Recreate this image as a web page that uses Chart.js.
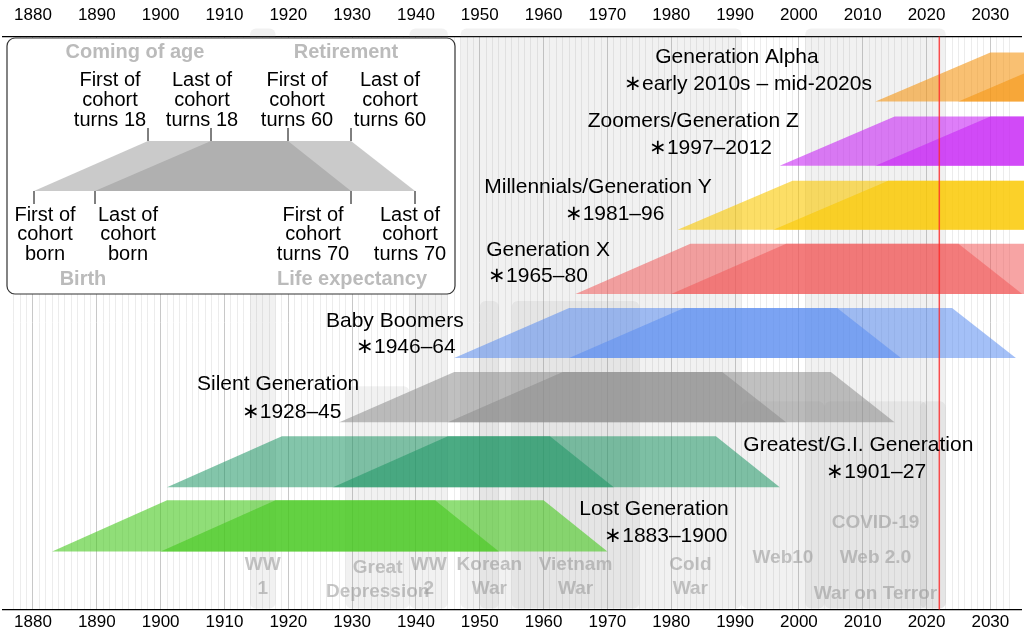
<![CDATA[<!DOCTYPE html><html><head><meta charset="utf-8">
<script src="https://cdn.jsdelivr.net/npm/chart.js@4"></script>
<style>html,body{margin:0;padding:0;background:#fff}#w{width:1024px;height:640px}</style></head><body>
<div id="w"><canvas id="c"></canvas></div>
<script>
const genNames=["Lost Generation","Greatest/G.I. Generation","Silent Generation","Baby Boomers","Generation X","Millennials/Generation Y","Zoomers/Generation Z","Generation Alpha"];
const genSpans=["∗1883–1900","∗1901–27","∗1928–45","∗1946–64","∗1965–80","∗1981–96","∗1997–2012","∗early 2010s – mid-2020s"];
const birthStart=[1883,1901,1928,1946,1965,1981,1997,2012];
const birthEnd=[1900,1927,1945,1964,1980,1996,2012,2025];
const rowTop=[499,435,371,307,243,180,116,52];
const rowBottom=[550,486,421,357,293,229,165,101];
const colors=["rgba(70,200,30,0.6)","rgba(30,150,100,0.55)","rgba(140,140,140,0.55)","rgba(90,140,240,0.55)","rgba(240,90,90,0.55)","rgba(250,200,0,0.6)","rgba(200,40,245,0.6)","rgba(245,150,20,0.6)"];
const nameYear=[1965.6,1991.3,1905.7,1925.9,1951.0,1950.7,1966.9,1977.5];
const nameY=[508,444,383,320,249,186,121,57];
const spanYear=[1969.5,2004.3,1912.7,1930.6,1951.3,1963.3,1976.5,1972.6];
const spanY=[535,471,411,346,275,213,148,84];
const eventNames=["WW\n1","Great\nDepression","WW\n2","Korean\nWar","Vietnam\nWar","Cold\nWar","Web10","Web 2.0","COVID-19","War on Terror"];
const eventStart=[1914,1929,1939,1950,1955,1947,1991,2004,2019,2001];
const eventEnd=[1918,1939,1945,1953,1975,1991,2004,2020,2023,2023];
const eventTop=[28,385,28,300,300,28,400,400,400,28];
const eventLabelYear=[1916,1934,1942,1951.5,1965,1983,1997.5,2012,2012,2012];
const eventLabelY=[575,578,575,575,575,575,556,556,521,592];
const currentYear=2022;

const pl={id:'p',
beforeDatasetsDraw(ch){const c=ch.ctx,x=ch.scales.x,y=ch.scales.y;c.save();
 eventStart.forEach((s,i)=>{c.fillStyle='rgba(150,150,150,0.13)';const x0=x.getPixelForValue(s),x1=x.getPixelForValue(eventEnd[i]);const y0=y.getPixelForValue(eventTop[i]),y1=y.getPixelForValue(607);c.beginPath();c.roundRect(x0,y0,x1-x0,y1-y0,6);c.fill();});
 birthStart.forEach((b,i)=>{[b,birthEnd[i]].forEach(v=>{const t=y.getPixelForValue(rowTop[i]),bo=y.getPixelForValue(rowBottom[i]);c.fillStyle=colors[i];c.beginPath();c.moveTo(x.getPixelForValue(v),bo);c.lineTo(x.getPixelForValue(v+18),t);c.lineTo(x.getPixelForValue(v+60),t);c.lineTo(x.getPixelForValue(v+70),bo);c.closePath();c.fill();});});
 c.strokeStyle='rgba(255,40,40,0.8)';c.lineWidth=1.5;const cx=x.getPixelForValue(currentYear);c.beginPath();c.moveTo(cx,y.top);c.lineTo(cx,y.bottom);c.stroke();
 c.restore();},
afterDatasetsDraw(ch){const c=ch.ctx,x=ch.scales.x,y=ch.scales.y;c.save();
 c.textAlign='center';c.textBaseline='middle';c.font='bold 19px "Liberation Sans"';c.fillStyle='rgba(150,150,150,0.55)';
 eventNames.forEach((n,i)=>{const ls=n.split('\n');ls.forEach((l,k)=>c.fillText(l,x.getPixelForValue(eventLabelYear[i]),y.getPixelForValue(eventLabelY[i])+(k-(ls.length-1)/2)*24));});
 c.fillStyle='#000';c.font='21px "Liberation Sans"';
 genNames.forEach((n,i)=>{c.textAlign='left';c.fillText(n,x.getPixelForValue(nameYear[i]),y.getPixelForValue(nameY[i]));c.fillText(genSpans[i],x.getPixelForValue(spanYear[i]),y.getPixelForValue(spanY[i]));});
 c.fillStyle='#fff';c.strokeStyle='#333';c.lineWidth=1.2;c.beginPath();c.roundRect(7,38,448,256,8);c.fill();c.stroke();
 const lx=[34,95,351,415],tx=[148,211,288,351];
 [[0,2],[1,3]].forEach(([a,b])=>{c.fillStyle='rgba(150,150,150,0.5)';c.beginPath();c.moveTo(lx[a],191);c.lineTo(tx[a],141);c.lineTo(tx[b],141);c.lineTo(lx[b],191);c.closePath();c.fill();});
 c.strokeStyle='#000';c.lineWidth=1;
 tx.forEach(v=>{c.beginPath();c.moveTo(v,128);c.lineTo(v,141);c.stroke();});
 lx.forEach(v=>{c.beginPath();c.moveTo(v,191);c.lineTo(v,204);c.stroke();});
 c.font='20px "Liberation Sans"';c.fillStyle='#000';c.textAlign='center';
 const top=[["First of","cohort","turns 18",110],["Last of","cohort","turns 18",202],["First of","cohort","turns 60",297],["Last of","cohort","turns 60",390]];
 top.forEach(t=>{for(let k=0;k<3;k++)c.fillText(t[k],t[3],80+k*20);});
 const bot=[["First of","cohort","born",45],["Last of","cohort","born",128],["First of","cohort","turns 70",313],["Last of","cohort","turns 70",410]];
 bot.forEach(t=>{for(let k=0;k<3;k++)c.fillText(t[k],t[3],215+k*19.5);});
 c.font='bold 20px "Liberation Sans"';c.fillStyle='#bbb';
 c.fillText('Coming of age',135,52);c.fillText('Retirement',346,52);c.fillText('Birth',83,279);c.fillText('Life expectancy',352,279);
 c.restore();}};

const gridCol=ctx=>{const v=ctx.tick&&ctx.tick.value;if(!Number.isInteger(v))return 'rgba(0,0,0,0)';return v%10===0?'#c8c8c8':'#ececec';};
const tickCb=v=>Number.isInteger(v)&&v%10===0?String(v):'';
const axisBase={type:'linear',min:1875.3,max:2034.8,ticks:{stepSize:1,autoSkip:false,maxRotation:0,callback:tickCb,color:'#000',font:{family:'Liberation Sans',size:17},padding:3},grid:{color:gridCol,drawTicks:false},border:{color:'#000',width:1.2}};
new Chart(document.getElementById('c'),{type:'scatter',data:{datasets:[{data:[],xAxisID:'x',yAxisID:'y'}]},
options:{responsive:true,maintainAspectRatio:false,animation:false,events:[],layout:{padding:{left:0,right:0,top:2,bottom:4}},
plugins:{legend:{display:false},tooltip:{enabled:false}},
scales:{x:{...axisBase,position:'bottom'},x2:{...axisBase,position:'top',grid:{display:false}},
y:{display:false,min:36,max:608,reverse:true}}},plugins:[pl]});
</script></body></html>]]>
